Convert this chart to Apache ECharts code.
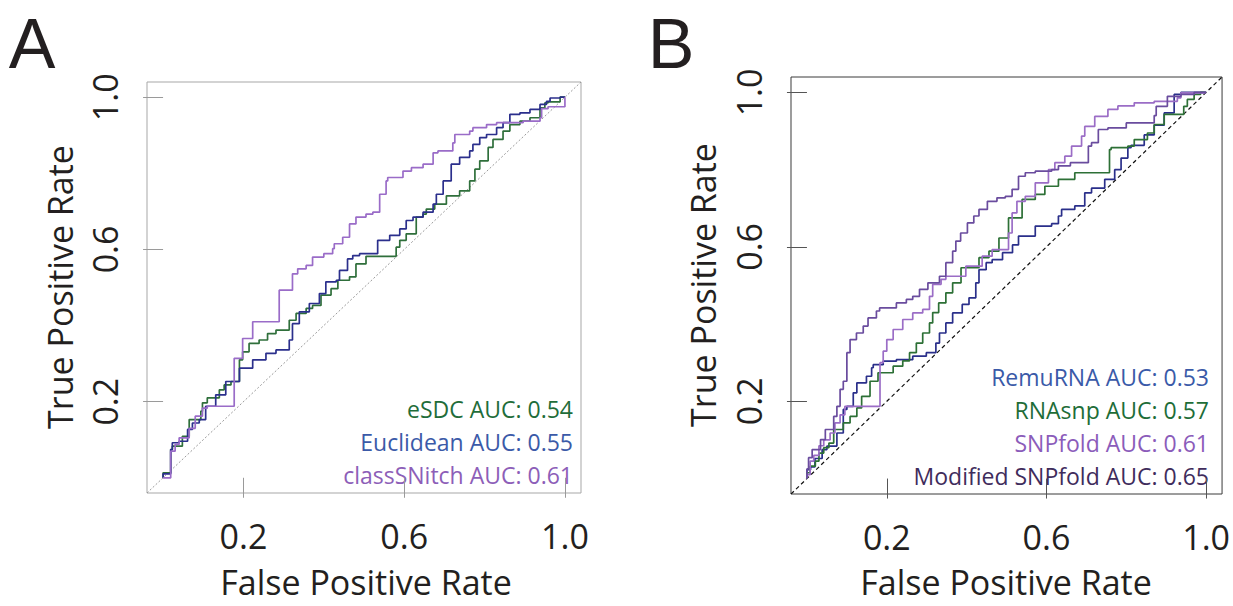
<!DOCTYPE html>
<html>
<head>
<meta charset="utf-8">
<script src="https://cdn.jsdelivr.net/npm/echarts@6/dist/echarts.min.js"></script>
<style>
  html, body { margin: 0; padding: 0; background: #ffffff; }
  #chart { width: 1233px; height: 606px; }
</style>
</head>
<body>
<div id="chart"></div>
<script>
// Axis ticks shared by both ROC panels
const tickValues = [0.2, 0.6, 1.0];
const tickLabels = ['0.2', '0.6', '1.0'];
const axisMin = -0.04;
const axisMax = 1.04;

// Panel A: classSNitch ROC
const classSNitchFpr = [0, 0.019, 0.019, 0.03, 0.04, 0.065, 0.08, 0.098, 0.11, 0.177, 0.177, 0.198, 0.223, 0.248, 0.289, 0.289, 0.322, 0.335, 0.356, 0.372, 0.4, 0.422, 0.426, 0.447, 0.464, 0.48, 0.505, 0.522, 0.539, 0.555, 0.559, 0.597, 0.618, 0.647, 0.672, 0.684, 0.721, 0.726, 0.763, 0.771, 0.805, 0.83, 0.863, 0.896, 0.938, 0.942, 0.958, 0.98, 1.0, 1.0];
const classSNitchTpr = [0, 0, 0.044, 0.07, 0.088, 0.105, 0.13, 0.162, 0.183, 0.188, 0.288, 0.314, 0.366, 0.41, 0.41, 0.484, 0.493, 0.536, 0.549, 0.558, 0.58, 0.589, 0.602, 0.615, 0.632, 0.667, 0.685, 0.693, 0.698, 0.745, 0.78, 0.789, 0.806, 0.815, 0.824, 0.854, 0.859, 0.88, 0.902, 0.911, 0.92, 0.928, 0.933, 0.933, 0.937, 0.946, 0.97, 0.975, 0.975, 1.0];

// Panel A: Euclidean ROC
const euclideanFpr = [0, 0.019, 0.023, 0.04, 0.061, 0.073, 0.09, 0.106, 0.131, 0.156, 0.19, 0.223, 0.256, 0.281, 0.314, 0.322, 0.339, 0.364, 0.389, 0.405, 0.431, 0.439, 0.459, 0.472, 0.489, 0.534, 0.564, 0.589, 0.605, 0.622, 0.647, 0.672, 0.68, 0.697, 0.717, 0.738, 0.763, 0.771, 0.788, 0.805, 0.83, 0.846, 0.863, 0.888, 0.913, 0.938, 0.954, 0.963, 0.988, 1.0];
const euclideanTpr = [0, 0.01, 0.074, 0.092, 0.096, 0.127, 0.144, 0.153, 0.188, 0.218, 0.253, 0.288, 0.31, 0.327, 0.336, 0.362, 0.405, 0.436, 0.458, 0.484, 0.515, 0.519, 0.545, 0.575, 0.584, 0.589, 0.624, 0.637, 0.654, 0.676, 0.685, 0.698, 0.719, 0.745, 0.78, 0.824, 0.842, 0.859, 0.876, 0.894, 0.902, 0.92, 0.933, 0.955, 0.959, 0.968, 0.981, 0.989, 0.998, 1.0];

// Panel A: eSDC ROC
const esdcFpr = [0, 0, 0.019, 0.023, 0.048, 0.065, 0.077, 0.094, 0.098, 0.11, 0.14, 0.152, 0.169, 0.19, 0.198, 0.214, 0.239, 0.26, 0.281, 0.314, 0.331, 0.356, 0.372, 0.393, 0.418, 0.435, 0.464, 0.48, 0.505, 0.514, 0.58, 0.589, 0.605, 0.63, 0.647, 0.655, 0.676, 0.705, 0.738, 0.763, 0.776, 0.788, 0.809, 0.821, 0.846, 0.863, 0.888, 0.913, 0.938, 0.95, 0.958, 0.988, 1.0];
const esdcTpr = [0, 0.013, 0.013, 0.074, 0.083, 0.109, 0.153, 0.153, 0.175, 0.197, 0.21, 0.231, 0.244, 0.253, 0.31, 0.331, 0.353, 0.362, 0.379, 0.388, 0.414, 0.432, 0.445, 0.453, 0.48, 0.497, 0.519, 0.528, 0.562, 0.582, 0.582, 0.606, 0.624, 0.641, 0.685, 0.693, 0.706, 0.719, 0.741, 0.754, 0.78, 0.811, 0.833, 0.868, 0.889, 0.911, 0.928, 0.937, 0.946, 0.972, 0.985, 0.988, 1.0];

// Panel B: RemuRNA ROC
const remuFpr = [0, 0.009, 0.02, 0.038, 0.05, 0.075, 0.091, 0.1, 0.116, 0.125, 0.149, 0.162, 0.166, 0.191, 0.224, 0.265, 0.299, 0.323, 0.332, 0.348, 0.365, 0.389, 0.406, 0.423, 0.431, 0.449, 0.464, 0.49, 0.515, 0.53, 0.572, 0.613, 0.63, 0.638, 0.671, 0.696, 0.713, 0.746, 0.771, 0.787, 0.804, 0.812, 0.845, 0.87, 0.895, 0.92, 0.937, 0.97, 1.0];
const remuTpr = [0, 0.023, 0.03, 0.052, 0.075, 0.084, 0.118, 0.179, 0.187, 0.222, 0.248, 0.265, 0.287, 0.295, 0.304, 0.308, 0.317, 0.326, 0.351, 0.377, 0.403, 0.429, 0.451, 0.468, 0.507, 0.541, 0.559, 0.567, 0.585, 0.605, 0.628, 0.654, 0.66, 0.68, 0.697, 0.706, 0.74, 0.752, 0.775, 0.8, 0.83, 0.857, 0.863, 0.89, 0.915, 0.947, 0.995, 1.0, 1.0];

// Panel B: RNAsnp ROC
const rnasnpFpr = [0, 0.008, 0.021, 0.03, 0.042, 0.055, 0.067, 0.091, 0.108, 0.125, 0.137, 0.158, 0.178, 0.191, 0.216, 0.24, 0.257, 0.274, 0.29, 0.307, 0.315, 0.33, 0.348, 0.365, 0.386, 0.431, 0.456, 0.481, 0.505, 0.539, 0.572, 0.596, 0.63, 0.671, 0.688, 0.758, 0.762, 0.804, 0.82, 0.853, 0.87, 0.895, 0.944, 0.953, 0.97, 0.986, 1.0];
const rnasnpTpr = [0, 0.015, 0.032, 0.045, 0.066, 0.08, 0.092, 0.127, 0.144, 0.161, 0.183, 0.213, 0.252, 0.274, 0.274, 0.291, 0.305, 0.326, 0.351, 0.377, 0.403, 0.43, 0.455, 0.481, 0.507, 0.546, 0.572, 0.589, 0.623, 0.675, 0.723, 0.736, 0.757, 0.775, 0.792, 0.792, 0.852, 0.857, 0.861, 0.878, 0.895, 0.917, 0.943, 0.964, 0.982, 0.995, 1.0];

// Panel B: SNPfold ROC
const snpfoldFpr = [0, 0.008, 0.017, 0.03, 0.042, 0.058, 0.07, 0.083, 0.095, 0.108, 0.183, 0.183, 0.191, 0.2, 0.216, 0.24, 0.265, 0.29, 0.307, 0.315, 0.336, 0.348, 0.398, 0.439, 0.464, 0.505, 0.514, 0.526, 0.547, 0.572, 0.605, 0.621, 0.646, 0.663, 0.688, 0.696, 0.721, 0.754, 0.779, 0.82, 0.87, 0.928, 0.937, 0.994, 1.0];
const snpfoldTpr = [0, 0.01, 0.045, 0.06, 0.085, 0.1, 0.118, 0.144, 0.165, 0.187, 0.187, 0.26, 0.3, 0.33, 0.36, 0.386, 0.412, 0.429, 0.438, 0.472, 0.503, 0.516, 0.524, 0.55, 0.576, 0.593, 0.636, 0.688, 0.718, 0.731, 0.766, 0.8, 0.818, 0.835, 0.861, 0.887, 0.912, 0.938, 0.956, 0.965, 0.973, 0.977, 0.986, 0.999, 1.0];

// Panel B: Modified SNPfold ROC
const modifiedFpr = [0, 0.004, 0.013, 0.034, 0.046, 0.067, 0.075, 0.083, 0.091, 0.1, 0.108, 0.124, 0.141, 0.153, 0.174, 0.182, 0.224, 0.249, 0.265, 0.282, 0.303, 0.332, 0.348, 0.365, 0.373, 0.385, 0.402, 0.418, 0.431, 0.452, 0.476, 0.497, 0.514, 0.53, 0.547, 0.572, 0.613, 0.63, 0.66, 0.705, 0.713, 0.73, 0.754, 0.8, 0.87, 0.875, 0.903, 0.937, 0.97, 1.0];
const modifiedTpr = [0, 0.025, 0.054, 0.075, 0.101, 0.127, 0.161, 0.187, 0.231, 0.252, 0.326, 0.36, 0.377, 0.395, 0.416, 0.434, 0.442, 0.455, 0.464, 0.472, 0.49, 0.507, 0.524, 0.559, 0.589, 0.615, 0.636, 0.662, 0.68, 0.697, 0.718, 0.727, 0.731, 0.749, 0.783, 0.792, 0.796, 0.8, 0.81, 0.818, 0.861, 0.87, 0.904, 0.908, 0.921, 0.94, 0.964, 0.99, 0.995, 1.0];

// AUC annotations
const legendA = [
  { text: 'eSDC AUC: 0.54', color: '#1f6d3a' },
  { text: 'Euclidean AUC: 0.55', color: '#3b5aa8' },
  { text: 'classSNitch AUC: 0.61', color: '#8d5eb8' }
];
const legendB = [
  { text: 'RemuRNA AUC: 0.53', color: '#3a5aa8' },
  { text: 'RNAsnp AUC: 0.57', color: '#1e6d38' },
  { text: 'SNPfold AUC: 0.61', color: '#8b5cba' },
  { text: 'Modified SNPfold AUC: 0.65', color: '#3f2c5c' }
];

const FONT = '"Open Sans", "Noto Sans", sans-serif';
const PANEL_FONT = '"Liberation Sans", Arial, sans-serif';
const INK = '#231f20';

function zip(xs, ys) {
  return xs.map((x, i) => [x, ys[i]]);
}

function labelFor(v) {
  const i = tickValues.findIndex(t => Math.abs(t - v) < 1e-9);
  return i >= 0 ? tickLabels[i] : '';
}

function makeXAxis(gridIndex, tickColor) {
  return {
    type: 'value', gridIndex, min: axisMin, max: axisMax,
    axisLine: { show: false },
    splitLine: { show: false },
    axisTick: { show: true, length: 20, inside: false, customValues: tickValues,
      lineStyle: { color: tickColor, width: 1 } },
    axisLabel: { customValues: tickValues, formatter: labelFor, margin: 26,
      fontSize: 34, fontFamily: FONT, color: INK }
  };
}

function makeYAxis(gridIndex, tickColor) {
  return {
    type: 'value', gridIndex, min: axisMin, max: axisMax,
    axisLine: { show: false },
    splitLine: { show: false },
    axisTick: { show: true, length: 20, inside: false, customValues: tickValues,
      lineStyle: { color: tickColor, width: 1 } },
    axisLabel: { customValues: tickValues, formatter: labelFor, margin: 25, rotate: 90,
      fontSize: 34, fontFamily: FONT, color: INK }
  };
}

function rocSeries(name, xs, ys, color, idx) {
  return {
    name, type: 'line', xAxisIndex: idx, yAxisIndex: idx,
    data: zip(xs, ys), step: 'start', showSymbol: false, symbol: 'none',
    lineStyle: { color, width: 1.7 }, silent: true, animation: false, z: 3
  };
}

function diagonal(idx, color, type, width) {
  return {
    type: 'line', xAxisIndex: idx, yAxisIndex: idx,
    data: [[axisMin, axisMin], [axisMax, axisMax]], showSymbol: false, symbol: 'none',
    lineStyle: { color, type, width }, silent: true, animation: false, z: 2
  };
}

function textEl(text, x, y, opts) {
  return Object.assign({
    type: 'text', x, y, silent: true,
    style: Object.assign({ text, fill: INK, font: '34px ' + FONT,
      textAlign: 'center', textVerticalAlign: 'middle' }, opts.style || {})
  }, opts.el || {});
}

const graphics = [
  textEl('A', 32, 44, { style: { font: '70px ' + PANEL_FONT } }),
  textEl('B', 671, 44, { style: { font: '70px ' + PANEL_FONT } }),
  textEl('True Positive Rate', 60, 287, { el: { rotation: Math.PI / 2 } }),
  textEl('True Positive Rate', 703, 285, { el: { rotation: Math.PI / 2 } }),
  textEl('False Positive Rate', 366, 582, {}),
  textEl('False Positive Rate', 1006, 582, {})
];
legendA.forEach((d, i) => {
  graphics.push(textEl(d.text, 573, 409 + i * 33, {
    style: { fill: d.color, font: '23px ' + FONT, textAlign: 'right' } }));
});
legendB.forEach((d, i) => {
  graphics.push(textEl(d.text, 1209, 377 + i * 33, {
    style: { fill: d.color, font: '23px ' + FONT, textAlign: 'right' } }));
});

const chart = echarts.init(document.getElementById('chart'), null, { renderer: 'svg' });
chart.setOption({
  backgroundColor: '#ffffff',
  animation: false,
  grid: [
    { left: 147, top: 82, width: 434, height: 411, show: true,
      borderColor: '#a7a7a7', borderWidth: 1, backgroundColor: 'transparent' },
    { left: 791, top: 77, width: 433, height: 417, show: true,
      borderColor: '#3a3a3a', borderWidth: 1, backgroundColor: 'transparent' }
  ],
  xAxis: [makeXAxis(0, '#9a9a9a'), makeXAxis(1, '#555555')],
  yAxis: [makeYAxis(0, '#9a9a9a'), makeYAxis(1, '#555555')],
  series: [
    diagonal(0, '#9a9a9a', [2, 2], 1),
    rocSeries('eSDC', esdcFpr, esdcTpr, '#2f6f3b', 0),
    rocSeries('Euclidean', euclideanFpr, euclideanTpr, '#2b2f8c', 0),
    rocSeries('classSNitch', classSNitchFpr, classSNitchTpr, '#9a6cc8', 0),
    diagonal(1, '#111111', [4, 3], 1.2),
    rocSeries('RemuRNA', remuFpr, remuTpr, '#2a2f8a', 1),
    rocSeries('RNAsnp', rnasnpFpr, rnasnpTpr, '#2d7036', 1),
    rocSeries('SNPfold', snpfoldFpr, snpfoldTpr, '#9b6dc6', 1),
    rocSeries('Modified SNPfold', modifiedFpr, modifiedTpr, '#6a4c9e', 1)
  ],
  graphic: graphics
});
</script>
</body>
</html>
